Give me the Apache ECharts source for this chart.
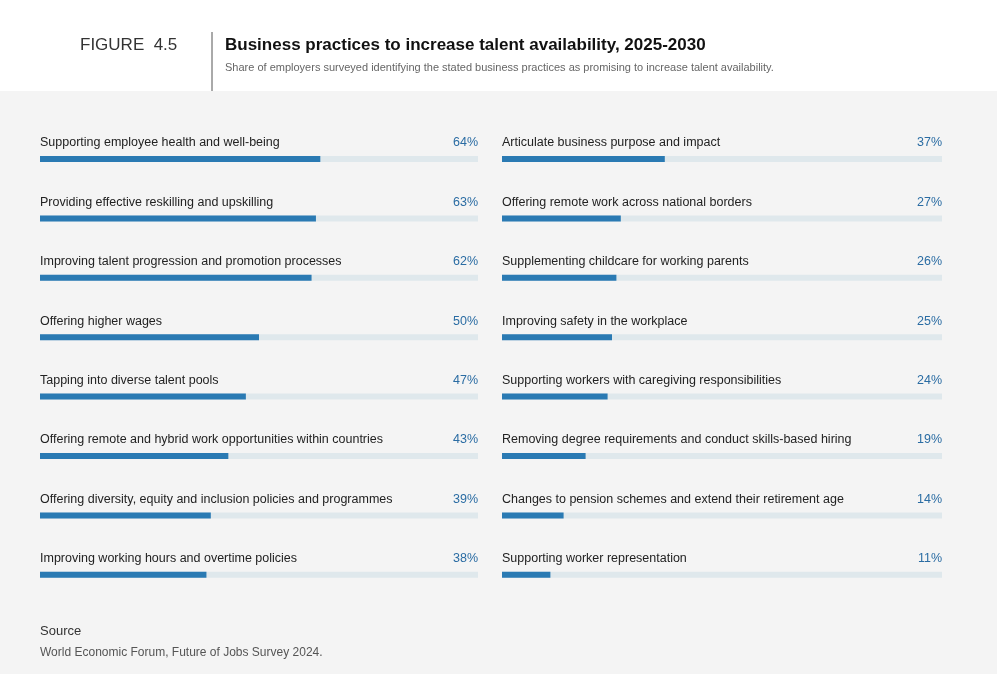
<!DOCTYPE html>
<html><head><meta charset="utf-8">
<script src="https://cdn.jsdelivr.net/npm/echarts@6/dist/echarts.min.js"></script>
<style>html,body{margin:0;padding:0;background:#fff}#plot{width:997px;height:674px}</style>
</head><body><div id="plot"></div>
<script>
const leftNames = [
  'Supporting employee health and well-being',
  'Providing effective reskilling and upskilling',
  'Improving talent progression and promotion processes',
  'Offering higher wages',
  'Tapping into diverse talent pools',
  'Offering remote and hybrid work opportunities within countries',
  'Offering diversity, equity and inclusion policies and programmes',
  'Improving working hours and overtime policies'
];
const leftValues = [64, 63, 62, 50, 47, 43, 39, 38];
const rightNames = [
  'Articulate business purpose and impact',
  'Offering remote work across national borders',
  'Supplementing childcare for working parents',
  'Improving safety in the workplace',
  'Supporting workers with caregiving responsibilities',
  'Removing degree requirements and conduct skills-based hiring',
  'Changes to pension schemes and extend their retirement age',
  'Supporting worker representation'
];
const rightValues = [37, 27, 26, 25, 24, 19, 14, 11];

const chart = echarts.init(document.getElementById('plot'));
const font = 'Liberation Sans, Arial, sans-serif';

function makeSeries(idx, names, values) {
  return [
    { type: 'bar', xAxisIndex: idx, yAxisIndex: idx, barWidth: 6, silent: true,
      data: names.map(() => 100), itemStyle: { color: '#dfe8ec' },
      label: { show: true, position: 'insideLeft', offset: [-5, -16], formatter: p => names[p.dataIndex],
        color: '#222', fontSize: 12.5, fontFamily: font } },
    { type: 'bar', xAxisIndex: idx, yAxisIndex: idx, barWidth: 6, barGap: '-100%', silent: true,
      data: values, itemStyle: { color: '#2a7ab3' } },
    { type: 'bar', xAxisIndex: idx, yAxisIndex: idx, barWidth: 6, barGap: '-100%', silent: true,
      data: names.map(() => 100), itemStyle: { color: 'transparent' },
      label: { show: true, position: 'insideRight', offset: [5, -16], formatter: p => values[p.dataIndex] + '%',
        color: '#2a6ca3', fontSize: 12.5, fontFamily: font } }
  ];
}

const grids = [
  { left: 40, width: 438, top: 129.3, height: 475.2 },
  { left: 502, width: 440, top: 129.3, height: 475.2 }
];

chart.setOption({
  animation: false,
  graphic: [
    { type: 'rect', shape: { x: 0, y: 91, width: 997, height: 583 }, style: { fill: '#f4f4f4' }, z: -10 },
    { type: 'line', shape: { x1: 212, y1: 32, x2: 212, y2: 91 }, style: { stroke: '#555', lineWidth: 1 } },
    { type: 'text', left: 80, top: 37, style: { text: 'FIGURE  4.5', font: '17px ' + font, fill: '#333' } },
    { type: 'text', left: 225, top: 37, style: { text: 'Business practices to increase talent availability, 2025-2030', font: 'bold 17px ' + font, fill: '#111' } },
    { type: 'text', left: 225, top: 62, style: { text: 'Share of employers surveyed identifying the stated business practices as promising to increase talent availability.', font: '11px ' + font, fill: '#666' } },
    { type: 'text', left: 40, top: 625, style: { text: 'Source', font: '13px ' + font, fill: '#333' } },
    { type: 'text', left: 40, top: 647, style: { text: 'World Economic Forum, Future of Jobs Survey 2024.', font: '12px ' + font, fill: '#555' } }
  ],
  grid: grids,
  xAxis: grids.map((g, i) => ({ type: 'value', gridIndex: i, min: 0, max: 100, show: false })),
  yAxis: [leftNames, rightNames].map((n, i) => ({ type: 'category', gridIndex: i, inverse: true, data: n, show: false })),
  series: [...makeSeries(0, leftNames, leftValues), ...makeSeries(1, rightNames, rightValues)]
});
</script></body></html>
